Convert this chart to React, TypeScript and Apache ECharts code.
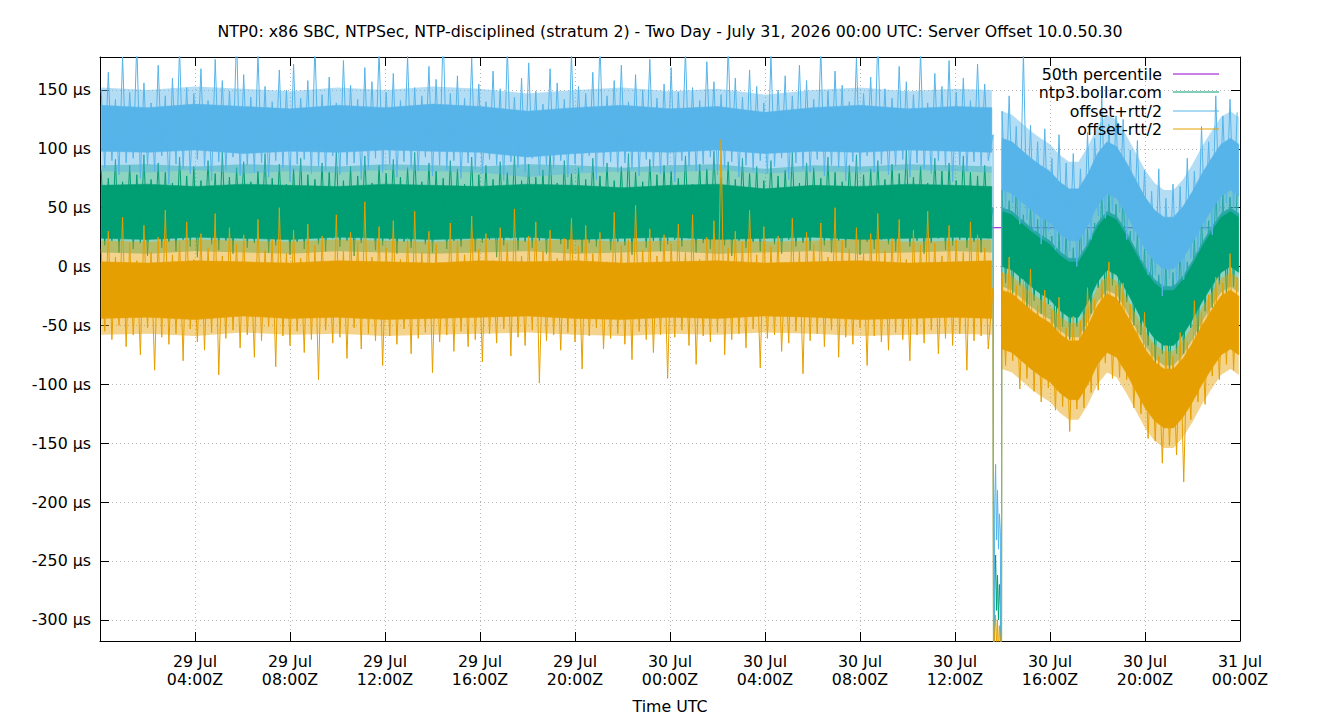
import { useEffect, useRef } from 'react';
import * as echarts from 'echarts';

const FONT = '"DejaVu Sans", "Noto Sans", sans-serif';
const FONT_SIZE = 15.8;
const TITLE =
  'NTP0: x86 SBC, NTPSec, NTP-disciplined (stratum 2) - Two Day - July 31, 2026 00:00 UTC: Server Offset 10.0.50.30';
const X_NAME = 'Time UTC';
const SERIES_NAMES = ['50th percentile', 'ntp3.bollar.com', 'offset+rtt/2', 'offset-rtt/2'];
const COLORS = ['#9400d3', '#009e73', '#56b4e9', '#e69f00'];

// x = hours since 29 Jul 00:00Z
const X_TICKS = [4, 8, 12, 16, 20, 24, 28, 32, 36, 40, 44, 48];
const X_TICK_LABELS = [
  '29 Jul\n04:00Z', '29 Jul\n08:00Z', '29 Jul\n12:00Z', '29 Jul\n16:00Z', '29 Jul\n20:00Z',
  '30 Jul\n00:00Z', '30 Jul\n04:00Z', '30 Jul\n08:00Z', '30 Jul\n12:00Z', '30 Jul\n16:00Z',
  '30 Jul\n20:00Z', '31 Jul\n00:00Z',
];

// 50th percentile
const P50_T = [0.05, 47.95];
const P50 = [33, 33];

// envelopes before the step event: dense core (LO/HI) and sparse fringe (OLO/OHI)
const BAND_L_T = [0.05, 2, 4, 6, 8, 10, 12, 14, 16, 18, 20, 22, 24, 26, 28, 30, 32, 34, 36, 37.55];
const GREEN_L_LO = [24, 23, 25, 24, 23, 25, 24, 23, 24, 25, 23, 24, 25, 23, 24, 25, 23, 24, 25, 24];
const GREEN_L_HI = [69, 70, 68, 70, 69, 68, 70, 69, 68, 70, 69, 67, 69, 70, 66, 69, 68, 70, 69, 68];
const GREEN_L_OLO = [12, 11, 13, 12, 11, 13, 12, 11, 12, 13, 11, 12, 13, 11, 12, 13, 11, 12, 13, 12];
const GREEN_L_OHI = [86, 87, 85, 87, 86, 85, 87, 86, 85, 87, 86, 84, 86, 87, 83, 86, 85, 87, 86, 85];
const BLUE_L_LO = [98, 97, 99, 96, 98, 97, 99, 98, 97, 93, 96, 98, 97, 99, 96, 98, 97, 99, 98, 97];
const BLUE_L_HI = [137, 135, 138, 136, 134, 137, 135, 138, 136, 132, 135, 137, 134, 136, 131, 135, 137, 134, 136, 135];
const BLUE_L_OLO = [81, 80, 82, 79, 81, 80, 82, 81, 80, 76, 79, 81, 80, 82, 79, 81, 80, 82, 81, 80];
const BLUE_L_OHI = [152, 150, 153, 151, 149, 152, 150, 153, 151, 147, 150, 152, 149, 151, 146, 150, 152, 149, 151, 150];
const ORANGE_L_LO = [-44, -43, -45, -42, -44, -43, -45, -44, -43, -42, -44, -45, -43, -44, -42, -43, -45, -44, -43, -44];
const ORANGE_L_HI = [4, 3, 5, 4, 3, 5, 4, 3, 5, 4, 5, 3, 4, 5, 3, 4, 5, 3, 4, 5];
const ORANGE_L_OLO = [-58, -57, -59, -56, -58, -57, -59, -58, -57, -56, -58, -59, -57, -58, -56, -57, -59, -58, -57, -58];
const ORANGE_L_OHI = [22, 21, 23, 22, 21, 23, 22, 21, 23, 22, 23, 21, 22, 23, 21, 22, 23, 21, 22, 23];

// envelopes after the step event
const BAND_R_T = [37.98, 38.4, 38.8, 39.2, 39.6, 40.0, 40.4, 40.8, 41.2, 41.6, 42.0, 42.4, 42.8, 43.2, 43.6, 44.0, 44.4, 44.8, 45.2, 45.6, 46.0, 46.4, 46.8, 47.2, 47.6, 47.95];
const GREEN_R_LO = [0, -3, -10, -17, -23, -28, -37, -43, -43, -30, -13, -3, -7, -20, -35, -50, -61, -67, -67, -58, -45, -30, -17, -5, 0, -5];
const GREEN_R_HI = [50, 47, 40, 33, 27, 22, 13, 7, 7, 20, 37, 47, 43, 30, 15, 0, -11, -17, -17, -8, 5, 20, 33, 45, 50, 45];
const GREEN_R_OLO = [-17, -20, -27, -34, -40, -45, -54, -60, -60, -47, -30, -20, -24, -37, -52, -67, -78, -84, -84, -75, -62, -47, -34, -22, -17, -22];
const GREEN_R_OHI = [67, 64, 57, 50, 44, 39, 30, 24, 24, 37, 54, 64, 60, 47, 32, 17, 6, 0, 0, 9, 22, 37, 50, 62, 67, 62];
const BLUE_R_LO = [65, 62, 55, 48, 42, 37, 28, 22, 22, 35, 52, 62, 58, 45, 30, 15, 4, -2, -2, 7, 20, 35, 48, 60, 65, 60];
const BLUE_R_HI = [109, 106, 99, 92, 86, 81, 72, 66, 66, 79, 96, 106, 102, 89, 74, 59, 48, 42, 42, 51, 64, 79, 92, 104, 109, 104];
const BLUE_R_OLO = [47, 44, 37, 30, 24, 19, 10, 4, 4, 17, 34, 44, 40, 27, 12, -3, -14, -20, -20, -11, 2, 17, 30, 42, 47, 42];
const BLUE_R_OHI = [132, 129, 122, 115, 109, 104, 95, 89, 89, 102, 119, 129, 125, 112, 97, 82, 71, 65, 65, 74, 87, 102, 115, 127, 132, 127];
const ORANGE_R_LO = [-70, -73, -80, -87, -93, -98, -107, -113, -113, -100, -83, -73, -77, -90, -105, -120, -131, -137, -137, -128, -115, -100, -87, -75, -70, -75];
const ORANGE_R_HI = [-20, -23, -30, -37, -43, -48, -57, -63, -63, -50, -33, -23, -27, -40, -55, -70, -81, -87, -87, -78, -65, -50, -37, -25, -20, -25];
const ORANGE_R_OLO = [-87, -90, -97, -104, -110, -115, -124, -130, -130, -117, -100, -90, -94, -107, -122, -137, -148, -154, -154, -145, -132, -117, -104, -92, -87, -92];
const ORANGE_R_OHI = [-5, -8, -15, -22, -28, -33, -42, -48, -48, -35, -18, -8, -12, -25, -40, -55, -66, -72, -72, -63, -50, -35, -22, -10, -5, -10];

// individual samples (every 9 minutes), before the event
const LEFT_T0 = 0.05;
const RIGHT_T0 = 37.98;
const SAMPLE_STEP = 0.15;
const BLUE_LEFT = [
  150, 84, 165, 90, 142, 78, 178, 88, 148, 92, 190, 75, 156, 86, 139, 81, 171, 94, 145, 70,
  160, 87, 185, 83, 152, 79, 147, 91, 168, 85, 141, 73, 176, 89, 158, 82, 149, 93, 195, 77,
  163, 86, 144, 80, 181, 88, 153, 76, 140, 90, 167, 84, 150, 72, 172, 87, 143, 91, 158, 79,
  188, 85, 146, 82, 161, 94, 139, 78, 175, 86, 154, 88, 142, 74, 169, 83, 157, 92, 183, 80,
  148, 87, 164, 76, 141, 89, 179, 84, 152, 81, 145, 93, 170, 77, 159, 86, 200, 82, 147, 90,
  162, 75, 143, 88, 177, 83, 155, 79, 140, 91, 166, 86, 151, 73, 186, 89, 144, 84, 160, 80,
  173, 92, 149, 78, 138, 86, 168, 83, 156, 90, 142, 76, 181, 87, 153, 81, 147, 94, 165, 74,
  192, 85, 145, 89, 158, 80, 171, 88, 140, 83, 163, 77, 150, 91, 176, 84, 143, 79, 155, 86,
  169, 72, 148, 90, 184, 85, 152, 81, 141, 87, 174, 93, 157, 78, 146, 84, 188, 89, 160, 76,
  144, 86, 167, 82, 153, 90, 139, 79, 179, 85, 150, 92, 162, 74, 145, 88, 171, 83, 158, 80,
  142, 91, 185, 77, 149, 86, 166, 84, 154, 73, 140, 89, 177, 82, 147, 94, 161, 80, 196, 87,
  151, 78, 143, 85, 170, 91, 157, 76, 146, 88, 182, 83, 139, 79, 164, 90, 153, 84, 175, 72,
  148, 86, 160, 81, 141, 89, 172, 85, 155, 90,
];
const GREEN_LEFT = [
  82, 18, 75, 22, 91, 12, 72, 25, 86, 15, 78, 20, 95, 9, 74, 24, 88, 16, 80, 21,
  71, 13, 93, 23, 77, 17, 85, 8, 73, 26, 90, 19, 79, 14, 98, 22, 76, 11, 84, 24,
  89, 16, 72, 20, 81, 25, 96, 12, 75, 18, 87, 23, 70, 10, 83, 21, 92, 15, 78, 26,
  74, 19, 88, 13, 80, 24, 99, 17, 73, 22, 85, 9, 77, 20, 94, 25, 71, 14, 86, 18,
  79, 23, 91, 11, 76, 21, 84, 16, 97, 24, 72, 19, 88, 12, 81, 26, 75, 15, 90, 22,
  83, 17, 70, 25, 93, 13, 78, 20, 86, 23, 74, 8, 89, 18, 80, 24, 95, 14, 73, 21,
  87, 16, 76, 22, 82, 11, 100, 25, 71, 19, 90, 15, 79, 23, 84, 12, 74, 20, 92, 17,
  77, 24, 88, 14, 73, 21, 85, 18, 96, 10, 80, 25, 72, 16, 91, 22, 78, 13, 86, 19,
  81, 23, 75, 17, 94, 24, 70, 12, 87, 20, 83, 15, 98, 25, 76, 18, 89, 9, 74, 22,
  92, 16, 79, 21, 85, 13, 73, 24, 90, 19, 77, 11, 82, 23, 97, 17, 71, 20, 88, 14,
  84, 25, 75, 18, 93, 12, 80, 22, 72, 16, 86, 24, 95, 10, 78, 21, 83, 15, 90, 23,
  74, 19, 87, 13, 79, 25, 99, 17, 76, 22, 85, 11, 71, 20, 92, 24, 81, 14, 88, 18,
  73, 23, 94, 16, 80, 21, 77, 12, 86, 24,
];
const ORANGE_LEFT = [
  15, -55, 30, -62, 8, -50, 42, -68, 20, -58, 5, -75, 35, -52, 12, -88, 25, -60, 48, -66,
  10, -57, 22, -80, 38, -53, 6, -64, 28, -71, 16, -56, 45, -92, 9, -61, 33, -54, 19, -69,
  27, -58, 4, -77, 40, -63, 14, -51, 23, -85, 50, -59, 11, -67, 31, -55, 7, -73, 36, -62,
  18, -96, 26, -54, 3, -65, 44, -60, 13, -78, 29, -52, 21, -70, 55, -57, 8, -63, 34, -84,
  16, -59, 39, -66, 6, -53, 24, -74, 47, -61, 12, -56, 30, -90, 19, -64, 2, -58, 37, -72,
  22, -55, 10, -68, 43, -62, 15, -81, 28, -57, 5, -65, 33, -53, 20, -76, 49, -60, 9, -67,
  26, -54, 38, -99, 13, -63, 31, -58, 7, -71, 24, -56, 41, -64, 17, -87, 35, -59, 11, -52,
  29, -70, 4, -61, 46, -57, 18, -66, 23, -79, 52, -55, 14, -62, 32, -73, 9, -58, 27, -95,
  20, -60, 36, -54, 12, -67, 44, -83, 6, -59, 25, -64, 39, -56, 108, -75, 16, -62, 30, -57,
  21, -69, 48, -53, 10, -86, 34, -61, 17, -58, 26, -72, 3, -65, 41, -55, 13, -91, 29, -63,
  19, -57, 37, -68, 8, -54, 50, -77, 22, -60, 15, -66, 33, -52, 11, -84, 28, -59, 45, -64,
  14, -71, 24, -56, 40, -62, 6, -80, 31, -58, 18, -65, 47, -54, 20, -74, 9, -61, 35, -67,
  23, -57, 12, -88, 38, -63, 27, -59, 16, -70,
];

// the step event around 30 Jul 13:40Z (values below the axis go off-scale)
const EVENT_T = [37.6, 37.63, 37.67, 37.71, 37.75, 37.79, 37.83, 37.87, 37.91, 37.955, 37.97];
const BLUE_EVENT = [112, -500, -205, -168, -232, -190, -240, -210, -225, -500, 95];
const GREEN_EVENT = [50, -500, -275, -245, -292, -262, -300, -270, -288, -500, 35];
const ORANGE_EVENT = [-18, -500, -310, -296, -322, -300, -330, -305, -318, -500, -40];

// individual samples after the event
const GREEN_RIGHT = [
  65, -14, 56, -23, 71, -16, 44, -39, 53, -29,
  40, -40, 58, -32, 26, -63, 30, -51, 32, -62,
  16, -51, 40, -58, 32, -40, 37, -18, 64, -32,
  63, -16, 53, -32, 69, -30, 30, -50, 31, -58,
  15, -67, 17, -82, -7, -74, 4, -92, -5, -74,
  17, -74, 4, -52, 25, -66, 43, -38, 39, -35,
  70, -15, 61, -25, 59, -17, 66,
];
const BLUE_RIGHT = [
  132, 51, 145, 54, 119, 36, 182, 40, 120, 30,
  106, 19, 117, 30, 92, 14, 112, 12, 88, 13,
  96, 0, 83, 18, 114, 23, 109, 43, 145, 41,
  121, 47, 128, 46, 125, 23, 99, 22, 107, 6,
  82, -7, 64, -7, 83, -25, 58, -10, 70, -13,
  68, -11, 92, 7, 81, 13, 119, 31, 106, 27,
  145, 46, 128, 54, 142, 48, 131,
];
const ORANGE_RIGHT = [
  -5, -84, 8, -80, -16, -104, -11, -95, -2, -106,
  -33, -115, -20, -103, -37, -122, -26, -119, -52, -140,
  -42, -121, -46, -120, -18, -107, -28, -105, -11, -82,
  4, -95, -16, -94, -14, -96, -32, -120, -50, -125,
  -39, -146, -65, -148, -76, -167, -67, -152, -76, -160,
  -56, -183, -64, -130, -29, -115, -39, -117, -24, -93,
  -9, -96, -14, -83, 11, -88, -9,
];

const sampleTimes = (t0: number, n: number) =>
  Array.from({ length: n }, (_, i) => +(t0 + SAMPLE_STEP * i).toFixed(3));

function samples(left: number[], ev: number[], right: number[]) {
  const lt = sampleTimes(LEFT_T0, left.length);
  const rt = sampleTimes(RIGHT_T0, right.length);
  return [
    ...lt.map((t, i) => [t, left[i]]),
    ...EVENT_T.map((t, i) => [t, ev[i]]),
    ...rt.map((t, i) => [t, right[i]]),
  ];
}

// filled envelope between lo and hi, drawn through the axis scales
function band(T: number[], lo: number[], hi: number[], color: string, opacity: number, z: number) {
  return {
    type: 'custom',
    silent: true,
    clip: true,
    z,
    data: T.map((t, i) => [t, lo[i], hi[i]]),
    encode: { x: 0, y: [1, 2] },
    renderItem: (params: any, api: any) => {
      if (params.dataIndex !== 0) return null;
      const pts: number[][] = [];
      for (let i = 0; i < T.length; i++) pts.push(api.coord([T[i], lo[i]]));
      for (let i = T.length - 1; i >= 0; i--) pts.push(api.coord([T[i], hi[i]]));
      return {
        type: 'polygon',
        shape: { points: pts },
        style: {
          fill: color, opacity,
          stroke: opacity >= 1 ? color : 'none', lineWidth: 0.5,
        },
      };
    },
  };
}

function sampleLine(name: string, data: number[][], color: string, z: number) {
  return {
    name, type: 'line', silent: true, symbol: 'none', data, z,
    lineStyle: { color, width: 1 },
  };
}

const FRINGE = 0.45;

const axisLine = { show: true, onZero: false, lineStyle: { color: '#000', width: 1 } };
const tick = { show: true, inside: true, length: 9, lineStyle: { color: '#000', width: 1 } };
const grid = { show: true, lineStyle: { color: '#b8b8b8', width: 1, type: [1, 3] } };
const labelText = { color: '#000', fontFamily: FONT, fontSize: FONT_SIZE };

export default function App() {
  const ref = useRef<HTMLDivElement>(null);
  useEffect(() => {
    if (!ref.current) return;
    const chart = echarts.init(ref.current, undefined, { renderer: 'svg' });
    const legendY = [74, 92, 111, 129];
    const option: any = {
      animation: false,
      backgroundColor: '#fff',
      title: {
        text: TITLE, left: 'center', top: 18,
        textStyle: { ...labelText, fontWeight: 'normal' },
      },
      grid: { left: 100, right: 100, top: 57, bottom: 79 },
      xAxis: [
        {
          type: 'value', min: 0, max: 48, interval: 4, position: 'bottom',
          axisLine, axisTick: tick, splitLine: grid,
          axisLabel: {
            ...labelText, lineHeight: 18, margin: 11, showMinLabel: false,
            formatter: (v: number) => {
              const i = X_TICKS.indexOf(Math.round(v));
              return i >= 0 ? X_TICK_LABELS[i] : '';
            },
          },
        },
        {
          type: 'value', min: 0, max: 48, interval: 4, position: 'top',
          axisLine, axisTick: tick, splitLine: { show: false }, axisLabel: { show: false },
        },
      ],
      yAxis: [
        {
          type: 'value', min: -318, max: 178, splitNumber: 10, position: 'left',
          axisLine, axisTick: tick, splitLine: grid,
          axisLabel: {
            ...labelText, margin: 9, showMinLabel: false, showMaxLabel: false,
            formatter: (v: number) => `${v} µs`,
          },
        },
        {
          type: 'value', min: -318, max: 178, splitNumber: 10, position: 'right',
          axisLine, axisTick: tick, splitLine: { show: false }, axisLabel: { show: false },
        },
      ],
      series: [
        sampleLine(SERIES_NAMES[0], P50_T.map((t, i) => [t, P50[i]]), COLORS[0], 1),
        band(BAND_L_T, GREEN_L_OLO, GREEN_L_OHI, COLORS[1], FRINGE, 2),
        band(BAND_R_T, GREEN_R_OLO, GREEN_R_OHI, COLORS[1], FRINGE, 2),
        band(BAND_L_T, GREEN_L_LO, GREEN_L_HI, COLORS[1], 1, 2),
        band(BAND_R_T, GREEN_R_LO, GREEN_R_HI, COLORS[1], 1, 2),
        sampleLine(SERIES_NAMES[1], samples(GREEN_LEFT, GREEN_EVENT, GREEN_RIGHT), COLORS[1], 2),
        band(BAND_L_T, BLUE_L_OLO, BLUE_L_OHI, COLORS[2], FRINGE, 3),
        band(BAND_R_T, BLUE_R_OLO, BLUE_R_OHI, COLORS[2], FRINGE, 3),
        band(BAND_L_T, BLUE_L_LO, BLUE_L_HI, COLORS[2], 1, 3),
        band(BAND_R_T, BLUE_R_LO, BLUE_R_HI, COLORS[2], 1, 3),
        sampleLine(SERIES_NAMES[2], samples(BLUE_LEFT, BLUE_EVENT, BLUE_RIGHT), COLORS[2], 3),
        band(BAND_L_T, ORANGE_L_OLO, ORANGE_L_OHI, COLORS[3], FRINGE, 4),
        band(BAND_R_T, ORANGE_R_OLO, ORANGE_R_OHI, COLORS[3], FRINGE, 4),
        band(BAND_L_T, ORANGE_L_LO, ORANGE_L_HI, COLORS[3], 1, 4),
        band(BAND_R_T, ORANGE_R_LO, ORANGE_R_HI, COLORS[3], 1, 4),
        sampleLine(SERIES_NAMES[3], samples(ORANGE_LEFT, ORANGE_EVENT, ORANGE_RIGHT), COLORS[3], 4),
      ],
      graphic: [
        {
          type: 'text', left: 'center', top: 698,
          style: { text: X_NAME, fill: '#000', font: `${FONT_SIZE}px ${FONT}` },
        },
        ...SERIES_NAMES.flatMap((name, i) => [
          {
            type: 'text', x: 1162, y: legendY[i], z: 100,
            style: {
              text: name, fill: '#000', font: `${FONT_SIZE}px ${FONT}`,
              align: 'right', verticalAlign: 'middle',
            },
          },
          {
            type: 'line', z: 100,
            shape: { x1: 1173, y1: legendY[i], x2: 1219, y2: legendY[i] },
            style: { stroke: COLORS[i], lineWidth: 1 },
          },
        ]),
      ],
    };
    chart.setOption(option);
    return () => chart.dispose();
  }, []);
  return (
    <div
      ref={ref}
      style={{ position: 'absolute', left: 0, top: 0, width: 1340, height: 720 }}
    />
  );
}
